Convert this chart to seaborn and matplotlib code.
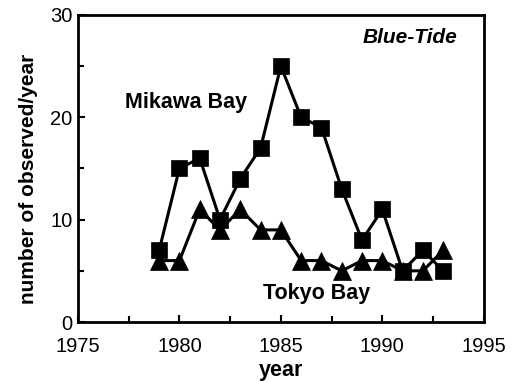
import matplotlib
matplotlib.use("Agg")
import matplotlib.pyplot as plt
import seaborn as sns
import pandas as pd
from matplotlib.ticker import MultipleLocator

years = list(range(1979, 1994))
mikawa_bay = [7, 15, 16, 10, 14, 17, 25, 20, 19, 13, 8, 11, 5, 7, 5]
tokyo_bay = [6, 6, 11, 9, 11, 9, 9, 6, 6, 5, 6, 6, 5, 5, 7]
x_ticks = [1975, 1980, 1985, 1990, 1995]
y_ticks = [0, 10, 20, 30]

sns.set_theme(style="ticks", rc={"text.color": "black", "axes.labelcolor": "black",
                                 "xtick.color": "black", "ytick.color": "black"})
plt.rcParams["font.family"] = ["Liberation Sans", "DejaVu Sans"]

df = pd.DataFrame({"year": years, "Mikawa Bay": mikawa_bay, "Tokyo Bay": tokyo_bay})

fig = plt.figure(figsize=(5.13, 3.82), dpi=100)
ax = fig.add_axes([0.152, 0.157, 0.791, 0.804])

sns.lineplot(data=df, x="year", y="Tokyo Bay", ax=ax, color="black", lw=2.2,
             marker="^", markersize=12.5, markeredgecolor="black", markeredgewidth=0.5)
sns.lineplot(data=df, x="year", y="Mikawa Bay", ax=ax, color="black", lw=2.2,
             marker="s", markersize=11.5, markeredgecolor="black", markeredgewidth=0.5)

ax.set_xlim(1975, 1995)
ax.set_ylim(0, 30)
ax.set_xticks(x_ticks)
ax.set_yticks(y_ticks)
ax.xaxis.set_minor_locator(MultipleLocator(2.5))
ax.yaxis.set_minor_locator(MultipleLocator(5))
ax.tick_params(which="both", direction="in", labelsize=14.5, width=1.5)
ax.tick_params(axis="x", pad=11)
ax.tick_params(axis="y", pad=4)
ax.tick_params(which="major", length=5)
ax.tick_params(which="minor", length=4)
for s in ax.spines.values():
    s.set_linewidth(2)
    s.set_color("black")

ax.set_xlabel("year", fontsize=15.5, fontweight="bold", labelpad=3)
ax.set_ylabel("number of observed/year", fontsize=15, fontweight="bold")
ax.yaxis.set_label_coords(-0.098, 0.466)

ax.text(1977.3, 21.4, "Mikawa Bay", fontsize=15.5, fontweight="bold", va="center", ha="left")
ax.text(1984.1, 2.8, "Tokyo Bay", fontsize=15.5, fontweight="bold", va="center", ha="left")
ax.text(1993.7, 27.8, "Blue-Tide", fontsize=15, fontweight="bold", fontstyle="italic",
        va="center", ha="right")

fig.savefig("out.png", dpi=100)
